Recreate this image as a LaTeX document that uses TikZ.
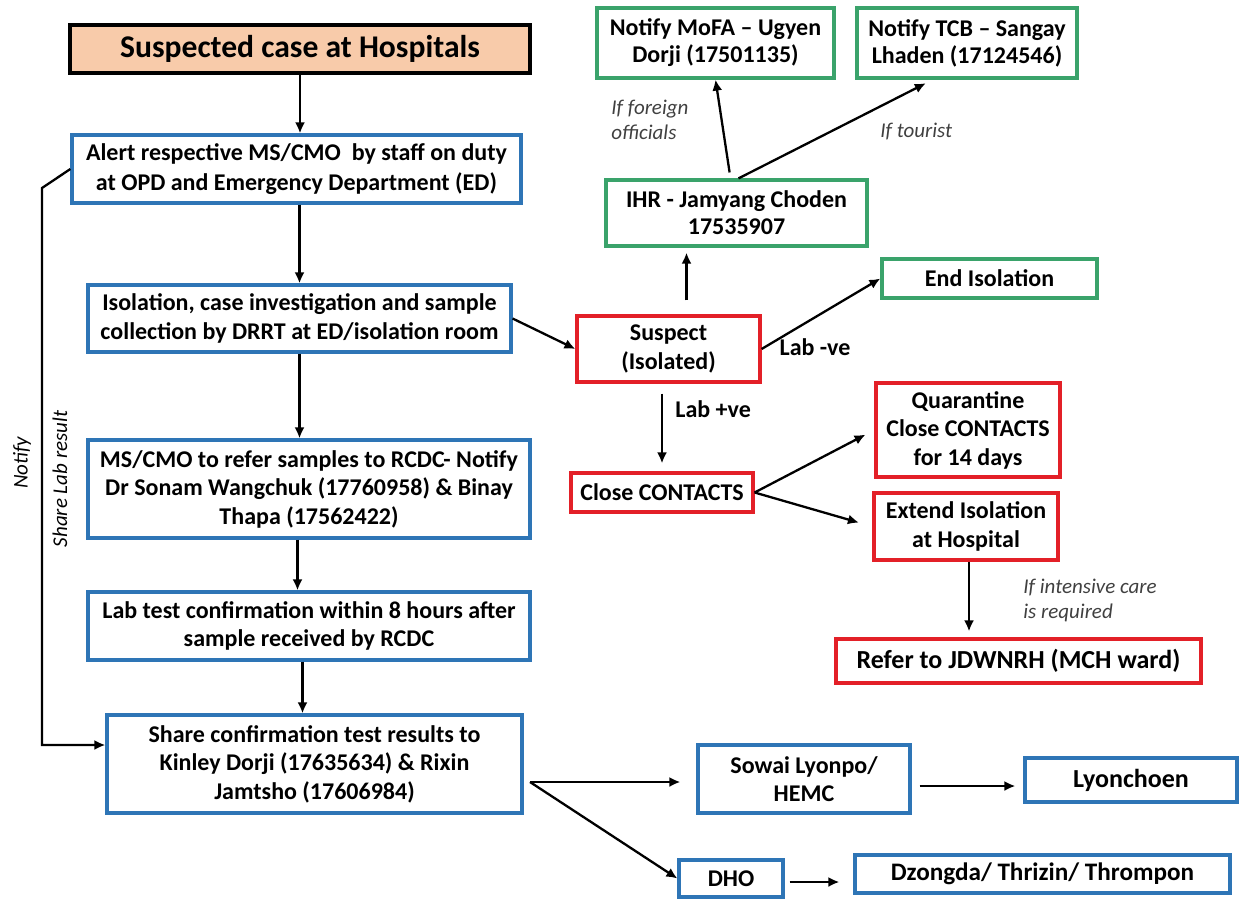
\documentclass[tikz,border=0pt]{standalone}
\usepackage{fontspec}
\setmainfont{Carlito}
\usetikzlibrary{arrows.meta,calc}
\definecolor{bluec}{HTML}{2E75B6}
\definecolor{redc}{HTML}{E32028}
\definecolor{greenc}{HTML}{3AA36B}
\definecolor{peach}{HTML}{F8CBAA}
\definecolor{lblc}{HTML}{404040}
\newcommand{\mkbox}[7]{%
  \pgfmathsetmacro\mkcx{(#2+#4)/2}\pgfmathsetmacro\mkcy{(#3+#5)/2}%
  \pgfmathsetmacro\mkw{(#4-#2)*0.5}\pgfmathsetmacro\mkh{(#5-#3)*0.5}%
  \node[#6, minimum width=\mkw pt, minimum height=\mkh pt] (#1) at (\mkcx,\mkcy) {#7};}
\tikzset{
  basebox/.style={draw, line width=1.6pt, inner sep=0pt, align=center, fill=white,
    font=\bfseries\fontsize{12}{14.25}\selectfont},
  bluebox/.style={basebox, draw=bluec},
  redbox/.style={basebox, draw=redc},
  greenbox/.style={basebox, draw=greenc, font=\bfseries\fontsize{12}{13.5}\selectfont},
  titlebox/.style={basebox, draw=black, line width=2.2pt, fill=peach, font=\bfseries\fontsize{15.8}{18}\selectfont},
  bigtext/.style={font=\bfseries\fontsize{13}{15}\selectfont},
  arr/.style={-{Latex[length=5.5pt,width=5pt]}, line width=1.15pt},
  lbl/.style={font=\itshape\fontsize{10.5}{12.5}\selectfont, text=lblc, align=left, inner sep=0pt},
  blbl/.style={font=\bfseries\fontsize{12}{13}\selectfont, inner sep=0pt},
}
\begin{document}
\begin{tikzpicture}[x=0.5pt,y=-0.5pt]
\useasboundingbox (0,0) rectangle (1241,899);
% left column
\mkbox{title}{70}{25}{530}{73}{titlebox}{Suspected case at Hospitals}
\mkbox{alert}{72}{135}{521}{203}{bluebox,font=\bfseries\fontsize{12}{15}\selectfont}{Alert respective MS/CMO\ \ by staff on duty\\at OPD and Emergency Department (ED)}
\mkbox{iso}{88}{285}{511}{352}{bluebox}{Isolation, case investigation and sample\\collection by DRRT at ED/isolation room}
\mkbox{ms}{88}{440}{530}{538}{bluebox}{MS/CMO to refer samples to RCDC- Notify\\Dr Sonam Wangchuk (17760958) \& Binay\\Thapa (17562422)}
\mkbox{lab}{88}{592}{530}{660}{bluebox}{Lab test confirmation within 8 hours after\\sample received by RCDC}
\mkbox{share}{107}{715}{522}{813}{bluebox}{Share confirmation test results to\\Kinley Dorji (17635634) \& Rixin\\Jamtsho (17606984)}
% green boxes
\mkbox{mofa}{597}{8}{834}{78}{greenbox}{Notify MoFA – Ugyen\\Dorji (17501135)}
\mkbox{tcb}{857}{8}{1077}{78}{greenbox}{Notify TCB – Sangay\\Lhaden (17124546)}
\mkbox{ihr}{606}{180}{867}{246}{greenbox}{IHR - Jamyang Choden\\17535907}
\mkbox{endiso}{882}{259}{1097}{298}{greenbox}{End Isolation}
% red boxes
\mkbox{susp}{577}{316}{760}{382}{redbox}{Suspect\\(Isolated)}
\mkbox{close}{571}{473}{753}{512}{redbox}{Close CONTACTS}
\mkbox{quar}{876}{383}{1060}{477}{redbox}{Quarantine\\Close CONTACTS\\for 14 days}
\mkbox{ext}{874}{493}{1058}{560}{redbox}{Extend Isolation\\at Hospital}
\mkbox{refer}{836}{639}{1201}{683}{redbox,bigtext}{Refer to JDWNRH (MCH ward)}
% bottom boxes
\mkbox{sowai}{698}{745}{910}{813}{bluebox}{Sowai Lyonpo/\\HEMC}
\mkbox{lyon}{1025}{758}{1237}{802}{bluebox,bigtext}{Lyonchoen}
\mkbox{dho}{679}{860}{783}{897}{bluebox}{DHO}
\mkbox{dz}{855}{855}{1230}{893}{bluebox,font=\bfseries\fontsize{12.6}{15}\selectfont}{Dzongda/ Thrizin/ Thrompon}

% main vertical arrows
\draw[arr] (title.south) -- (title.south |- alert.north);
\draw[arr] (alert.south -| iso.north) -- (iso.north);
\draw[arr] (iso.south) -- (iso.south |- ms.north);
\draw[arr] ([xshift=-1pt]ms.south -| iso.south) -- ([xshift=-1pt]iso.south |- lab.north);
\draw[arr] ([xshift=1.5pt]lab.south -| iso.south) -- ([xshift=1.5pt]iso.south |- share.north);

% left notify connector
\coordinate (c1) at (42,188);
\coordinate (c2) at (42,745);
\draw[arr] (alert.west) -- (c1) -- (c2) -- (c2 -| share.west);
\node[lbl, rotate=90, font=\itshape\fontsize{10.5}{12}\selectfont, text=black] (notify) at (22,463) {Notify};
\node[lbl, rotate=90, font=\itshape\fontsize{10.5}{12}\selectfont, text=black] (sharelab) at (60,479) {Share Lab result};

% suspect branch
\draw[arr] (iso.east) -- (susp.west);
\draw[arr] (susp.east) -- (endiso.west);
\node[blbl] (labneg) at (815,347) {Lab -ve};
\draw[arr, shorten <=7pt, shorten >=2.5pt] ([xshift=9pt]susp.north) -- ([xshift=9pt]susp.north |- ihr.south);
\draw[arr, shorten <=3pt] ([xshift=-3pt]ihr.north) -- (mofa.south);
\draw[arr, shorten >=4pt] ([xshift=1pt]ihr.north) -- ([xshift=-17pt]tcb.south);
\node[lbl, anchor=west] (foreign) at (611,120) {If foreign\\officials};
\node[lbl, anchor=west] (tourist) at (880,132) {If tourist};
\draw[arr, shorten <=5pt, shorten >=4pt] (close.north |- susp.south) -- (close.north);
\node[blbl, anchor=west] (labpos) at (675,409) {Lab +ve};
\draw[arr, shorten >=5pt] (close.east) -- (quar.west);
\draw[arr, shorten >=7pt] (close.east) -- (ext.west);
\draw[arr, shorten >=3pt] ([xshift=1.5pt]ext.south) -- ([xshift=1.5pt]ext.south |- refer.north);
\node[lbl, anchor=west] (icu) at (1023,600) {If intensive care\\is required};

% share branch
\coordinate (sp) at (530,782);
\draw[arr, shorten >=8pt] (sp) -- (sowai.west |- sp);
\draw[arr] (sp) -- (dho.west);
\draw[arr, shorten <=4pt, shorten >=4pt] (sowai.east |- 0,786) -- (lyon.west |- 0,786);
\draw[arr, shorten <=2.5pt, shorten >=7pt] (dho.east |- 0,882) -- (dz.west |- 0,882);
\end{tikzpicture}
\end{document}
